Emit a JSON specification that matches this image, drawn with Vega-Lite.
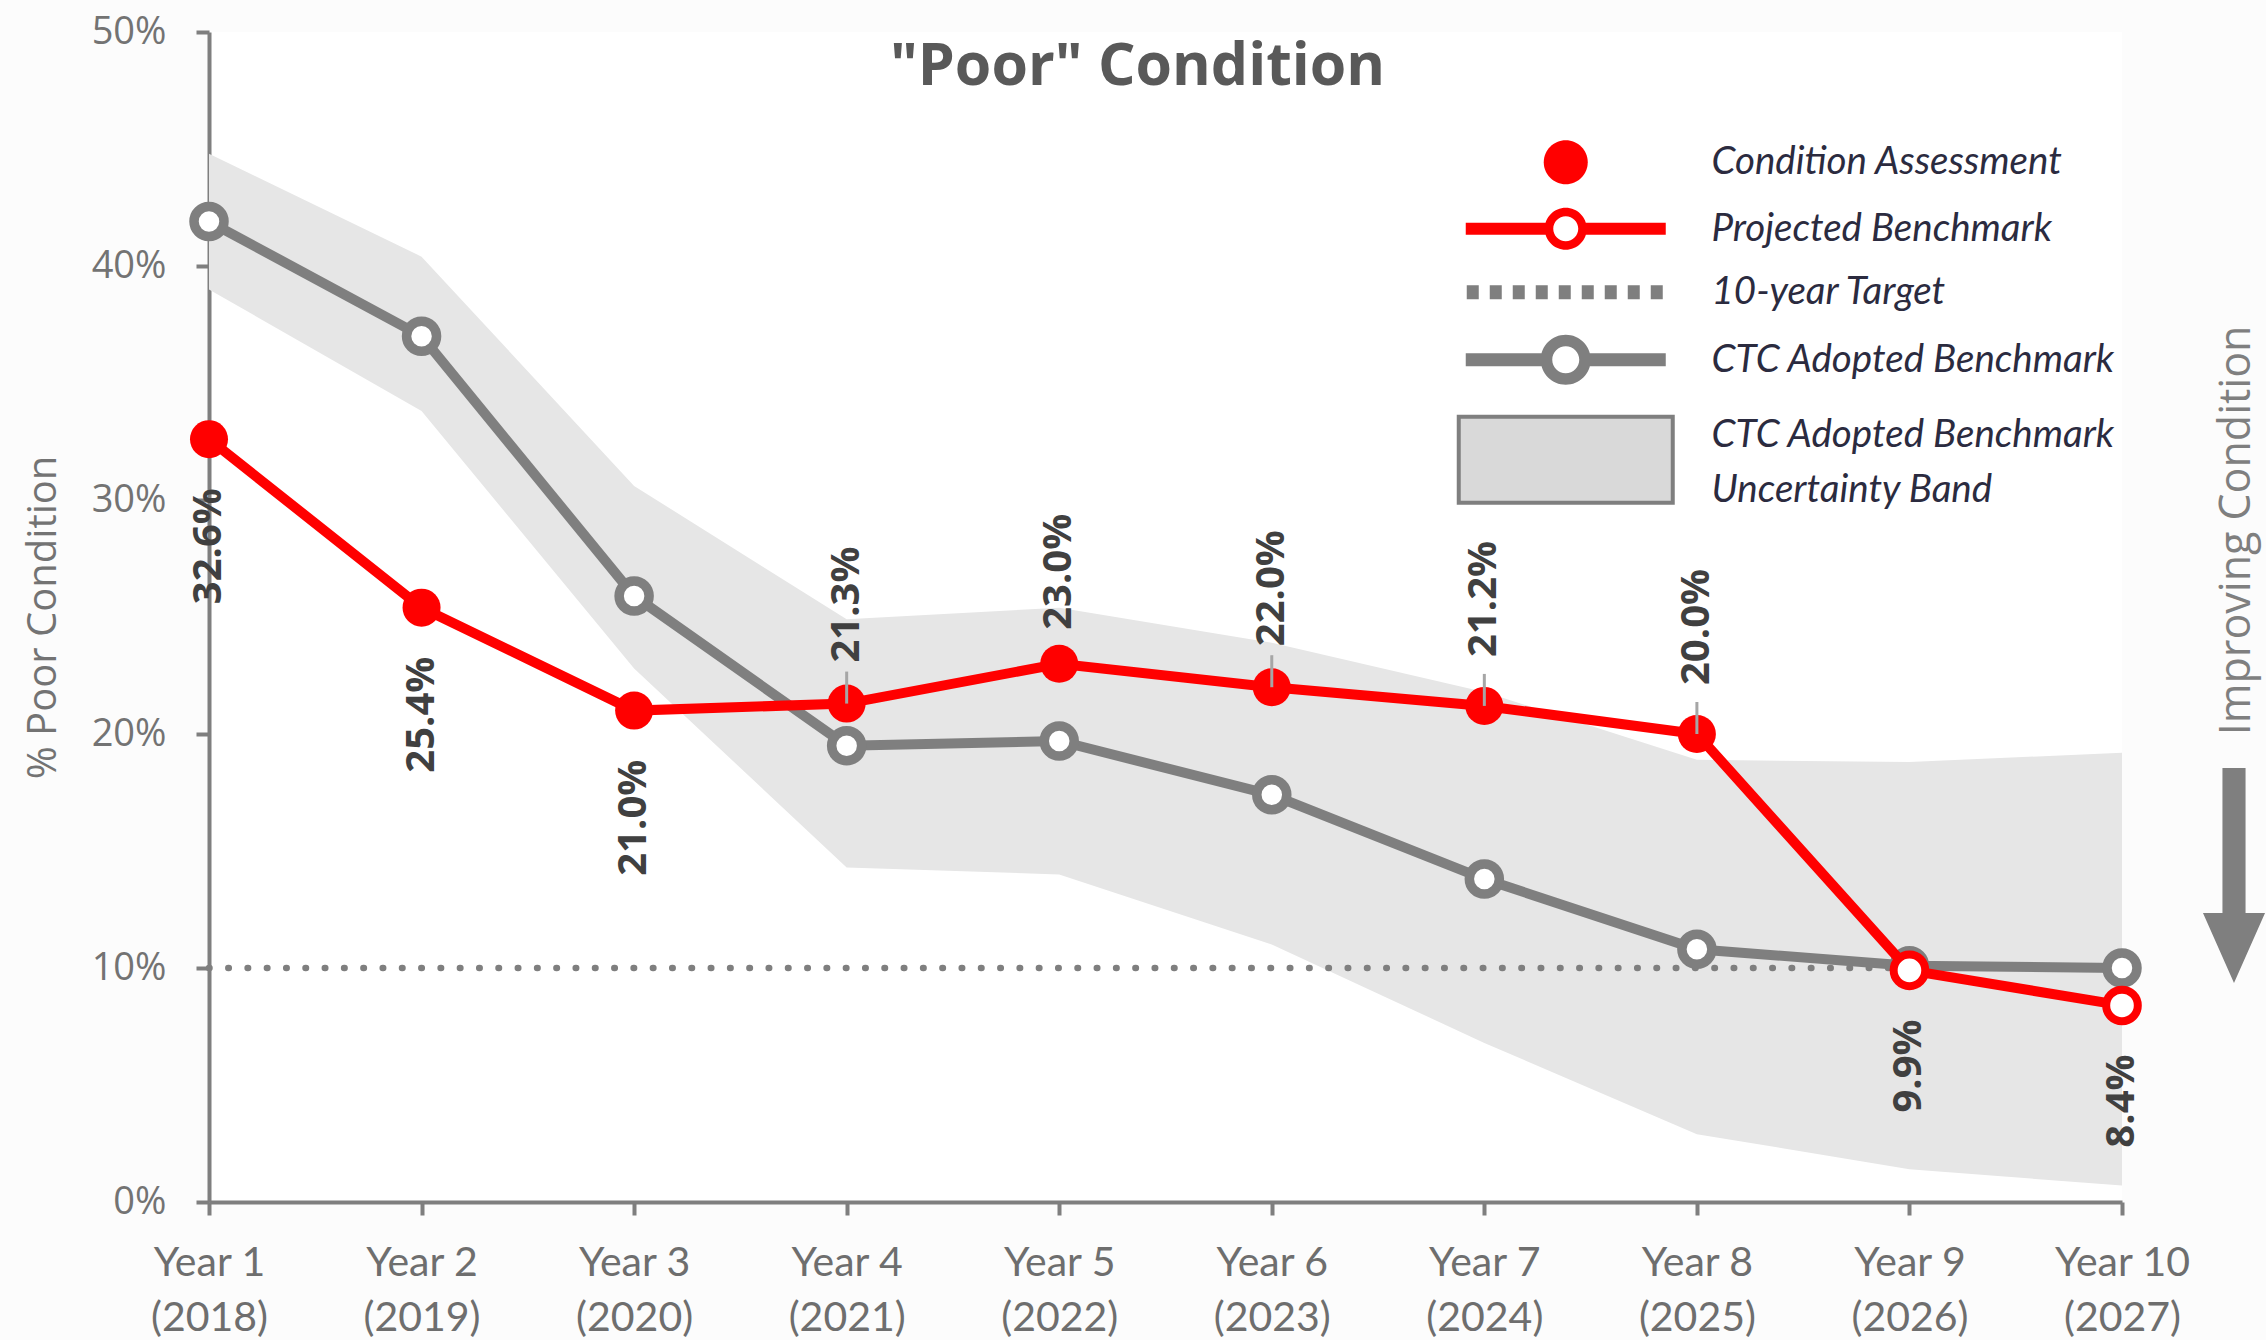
{
  "$schema": "https://vega.github.io/schema/vega-lite/v6.json",
  "width": 1913,
  "height": 1170,
  "autosize": {"type": "none"},
  "padding": {"left": 209, "top": 32, "right": 144, "bottom": 138},
  "background": "#fcfcfc",
  "config": {
    "view": {"stroke": null, "fill": "#ffffff"},
    "font": "Open Sans",
    "style": {"guide-label": {"lineHeight": 55}}
  },
  "data": {
    "values": [
      {"n": 1, "year": "Year 1|(2018)", "red": 0.326, "gray": 0.419, "lo": 0.390, "hi": 0.448, "status": "assessed"},
      {"n": 2, "year": "Year 2|(2019)", "red": 0.254, "gray": 0.370, "lo": 0.338, "hi": 0.404, "status": "assessed"},
      {"n": 3, "year": "Year 3|(2020)", "red": 0.210, "gray": 0.259, "lo": 0.228, "hi": 0.306, "status": "assessed"},
      {"n": 4, "year": "Year 4|(2021)", "red": 0.213, "gray": 0.195, "lo": 0.143, "hi": 0.249, "status": "assessed"},
      {"n": 5, "year": "Year 5|(2022)", "red": 0.230, "gray": 0.197, "lo": 0.140, "hi": 0.254, "status": "assessed"},
      {"n": 6, "year": "Year 6|(2023)", "red": 0.220, "gray": 0.174, "lo": 0.110, "hi": 0.239, "status": "assessed"},
      {"n": 7, "year": "Year 7|(2024)", "red": 0.212, "gray": 0.138, "lo": 0.068, "hi": 0.218, "status": "assessed"},
      {"n": 8, "year": "Year 8|(2025)", "red": 0.200, "gray": 0.108, "lo": 0.029, "hi": 0.189, "status": "assessed"},
      {"n": 9, "year": "Year 9|(2026)", "red": 0.099, "gray": 0.101, "lo": 0.014, "hi": 0.188, "status": "projected"},
      {"n": 10, "year": "Year 10|(2027)", "red": 0.084, "gray": 0.100, "lo": 0.007, "hi": 0.192, "status": "projected"}
    ]
  },
  "encoding": {
    "x": {
      "field": "year",
      "type": "ordinal",
      "scale": {
        "type": "point",
        "padding": 0,
        "domain": ["Year 1|(2018)", "Year 2|(2019)", "Year 3|(2020)", "Year 4|(2021)", "Year 5|(2022)", "Year 6|(2023)", "Year 7|(2024)", "Year 8|(2025)", "Year 9|(2026)", "Year 10|(2027)"]
      },
      "axis": {
        "title": "\"Poor\" Condition",
        "titleFont": "Open Sans",
        "titleFontSize": 59,
        "titleFontWeight": "bold",
        "titleColor": "#595959",
        "titleX": 928,
        "titleY": -1118,
        "titleAlign": "center",
        "titleBaseline": "alphabetic",
        "titleAngle": 0,
        "labelAngle": 0,
        "labelExpr": "split(datum.label, '|')",
        "labelFont": "Lato",
        "labelFontSize": 41,
        "labelColor": "#6e6e6e",
        "labelPadding": 28,
        "labelBaseline": "top",
        "labelLineHeight": 55,
        "labelOverlap": false,
        "labelFlush": false,
        "domainColor": "#7f7f7f",
        "domainWidth": 4,
        "tickColor": "#7f7f7f",
        "tickWidth": 4,
        "tickSize": 13,
        "grid": false
      }
    }
  },
  "layer": [
    {
      "mark": {"type": "area", "color": "#e6e6e6", "opacity": 1},
      "encoding": {
        "y": {
          "field": "lo",
          "type": "quantitative",
          "scale": {"domain": [0, 0.5]},
          "axis": {
            "title": "% Poor Condition",
            "values": [0, 0.1, 0.2, 0.3, 0.4, 0.5],
            "format": ".0%",
            "grid": false,
            "labelFont": "Open Sans",
            "labelFontSize": 38,
            "labelColor": "#737373",
            "labelPadding": 30,
            "domainColor": "#7f7f7f",
            "domainWidth": 4,
            "tickColor": "#7f7f7f",
            "tickWidth": 4,
            "tickSize": 13,
            "titleFont": "Open Sans",
            "titleFontSize": 40,
            "titleFontWeight": "normal",
            "titleColor": "#737373",
            "titleAngle": 270,
            "titleX": -166,
            "titleY": 585,
            "titleAlign": "center",
            "titleBaseline": "middle"
          }
        },
        "y2": {"field": "hi"}
      }
    },
    {
      "transform": [{"filter": "datum.n == 1"}],
      "mark": {"type": "rule", "color": "#7f7f7f", "strokeWidth": 6.5, "strokeDash": [0.5, 18.8], "strokeCap": "round"},
      "encoding": {
        "x": {"datum": "Year 1|(2018)"},
        "x2": {"datum": "Year 9|(2026)"},
        "y": {"datum": 0.1, "type": "quantitative"}
      }
    },
    {
      "mark": {"type": "line", "color": "#7f7f7f", "strokeWidth": 10},
      "encoding": {"y": {"field": "gray", "type": "quantitative"}}
    },
    {
      "mark": {"type": "point", "filled": true, "fill": "#ffffff", "stroke": "#7f7f7f", "strokeWidth": 9.5, "size": 900, "opacity": 1},
      "encoding": {"y": {"field": "gray", "type": "quantitative"}}
    },
    {
      "mark": {"type": "line", "color": "#ff0000", "strokeWidth": 10},
      "encoding": {"y": {"field": "red", "type": "quantitative"}}
    },
    {
      "transform": [{"filter": "datum.status == 'projected'"}],
      "mark": {"type": "point", "filled": true, "fill": "#ffffff", "stroke": "#ff0000", "strokeWidth": 8, "size": 1000, "opacity": 1},
      "encoding": {"y": {"field": "red", "type": "quantitative"}}
    },
    {
      "transform": [{"filter": "datum.status == 'assessed'"}],
      "mark": {"type": "point", "filled": true, "color": "#ff0000", "size": 1444, "opacity": 1},
      "encoding": {"y": {"field": "red", "type": "quantitative"}}
    },
    {
      "transform": [{"filter": "datum.n == 1"}],
      "mark": {"type": "point", "filled": true, "opacity": 0},
      "encoding": {
        "y": {"field": "red", "type": "quantitative"},
        "color": {
          "datum": "Condition Assessment",
          "type": "nominal",
          "scale": {
            "domain": ["Condition Assessment", "Projected Benchmark", "10-year Target", "CTC Adopted Benchmark", "CTC Adopted Benchmark Uncertainty Band"],
            "range": ["#ff0000", "#ff0000", "#7f7f7f", "#7f7f7f", "#d9d9d9"]
          },
          "legend": {
            "orient": "none",
            "legendX": 1227.5,
            "legendY": 111,
            "title": null,
            "padding": 0,
            "symbolSize": 400,
            "symbolOpacity": 1,
            "labelFont": "Lato",
            "labelFontStyle": "italic",
            "labelFontSize": 38.5,
            "labelColor": "#2b2b3f",
            "labelOffset": 236.5,
            "labelLimit": 0,
            "rowPadding": 22.5,
            "labelExpr": "datum.label == 'CTC Adopted Benchmark Uncertainty Band' ? ['CTC Adopted Benchmark', 'Uncertainty Band'] : datum.label"
          }
        },
        "shape": {
          "datum": "Condition Assessment",
          "type": "nominal",
          "scale": {
            "domain": ["Condition Assessment", "Projected Benchmark", "10-year Target", "CTC Adopted Benchmark", "CTC Adopted Benchmark Uncertainty Band"],
            "range": [
              "M 8.8 0 A 2.2 2.2 0 1 1 13.2 0 A 2.2 2.2 0 1 1 8.8 0 Z",
              "M 1 -0.6 L 9.2 -0.6 L 9.2 0.6 L 1 0.6 Z M 12.8 -0.6 L 21 -0.6 L 21 0.6 L 12.8 0.6 Z M 8.9 0 A 2.1 2.1 0 1 1 13.1 0 A 2.1 2.1 0 1 1 8.9 0 Z M 9.75 0 A 1.25 1.25 0 1 0 12.25 0 A 1.25 1.25 0 1 0 9.75 0 Z",
              "M 1.1 -0.7 H 2.3 V 0.7 H 1.1 Z M 3.4 -0.7 H 4.6 V 0.7 H 3.4 Z M 5.7 -0.7 H 6.9 V 0.7 H 5.7 Z M 8 -0.7 H 9.2 V 0.7 H 8 Z M 10.3 -0.7 H 11.5 V 0.7 H 10.3 Z M 12.6 -0.7 H 13.8 V 0.7 H 12.6 Z M 14.9 -0.7 H 16.1 V 0.7 H 14.9 Z M 17.2 -0.7 H 18.4 V 0.7 H 17.2 Z M 19.5 -0.7 H 20.7 V 0.7 H 19.5 Z",
              "M 1 -0.65 L 8.7 -0.65 L 8.7 0.65 L 1 0.65 Z M 13.3 -0.65 L 21 -0.65 L 21 0.65 L 13.3 0.65 Z M 8.5 0 A 2.5 2.5 0 1 1 13.5 0 A 2.5 2.5 0 1 1 8.5 0 Z M 9.65 0 A 1.35 1.35 0 1 0 12.35 0 A 1.35 1.35 0 1 0 9.65 0 Z",
              "M 0.3 -1.85 H 21.7 V 6.75 H 0.3 Z"
            ]
          },
          "legend": {"title": null}
        },
        "stroke": {
          "datum": "Condition Assessment",
          "type": "nominal",
          "scale": {
            "domain": ["Condition Assessment", "Projected Benchmark", "10-year Target", "CTC Adopted Benchmark", "CTC Adopted Benchmark Uncertainty Band"],
            "range": ["#ff0000", "#ff0000", "#7f7f7f", "#7f7f7f", "#7f7f7f"]
          },
          "legend": {"title": null}
        },
        "strokeWidth": {
          "datum": "Condition Assessment",
          "type": "nominal",
          "scale": {
            "type": "ordinal",
            "domain": ["Condition Assessment", "Projected Benchmark", "10-year Target", "CTC Adopted Benchmark", "CTC Adopted Benchmark Uncertainty Band"],
            "range": [0, 0, 0, 0, 4]
          },
          "legend": {"title": null}
        }
      }
    },
    {
      "transform": [{"filter": "datum.n == 4 || datum.n == 6 || datum.n == 7 || datum.n == 8"}],
      "mark": {"type": "rule", "color": "#a6a6a6", "strokeWidth": 3, "yOffset": -32},
      "encoding": {
        "y": {"field": "red", "type": "quantitative"},
        "y2": {"field": "red"}
      }
    },
    {
      "transform": [{"filter": "datum.n <= 3 || datum.n >= 9"}],
      "mark": {"type": "text", "angle": 270, "align": "right", "baseline": "middle", "yOffset": 49, "font": "Open Sans", "fontSize": 40, "fontWeight": "bold", "color": "#404040"},
      "encoding": {
        "y": {"field": "red", "type": "quantitative"},
        "text": {"field": "red", "format": ".1%"}
      }
    },
    {
      "transform": [{"filter": "datum.n == 4 || datum.n == 6"}],
      "mark": {"type": "text", "angle": 270, "align": "left", "baseline": "middle", "yOffset": -41, "font": "Open Sans", "fontSize": 40, "fontWeight": "bold", "color": "#404040"},
      "encoding": {
        "y": {"field": "red", "type": "quantitative"},
        "text": {"field": "red", "format": ".1%"}
      }
    },
    {
      "transform": [{"filter": "datum.n == 5"}],
      "mark": {"type": "text", "angle": 270, "align": "left", "baseline": "middle", "yOffset": -34, "font": "Open Sans", "fontSize": 40, "fontWeight": "bold", "color": "#404040"},
      "encoding": {
        "y": {"field": "red", "type": "quantitative"},
        "text": {"field": "red", "format": ".1%"}
      }
    },
    {
      "transform": [{"filter": "datum.n == 7 || datum.n == 8"}],
      "mark": {"type": "text", "angle": 270, "align": "left", "baseline": "middle", "yOffset": -49, "font": "Open Sans", "fontSize": 40, "fontWeight": "bold", "color": "#404040"},
      "encoding": {
        "y": {"field": "red", "type": "quantitative"},
        "text": {"field": "red", "format": ".1%"}
      }
    },
    {
      "transform": [{"filter": "datum.n == 10"}],
      "mark": {"type": "text", "text": "Improving Condition", "angle": 270, "align": "center", "baseline": "middle", "xOffset": 115, "font": "Open Sans", "fontSize": 43, "color": "#7f7f7f"},
      "encoding": {
        "y": {"datum": 0.287, "type": "quantitative"}
      }
    },
    {
      "transform": [{"filter": "datum.n == 10"}],
      "mark": {"type": "point", "shape": "M -0.105 -0.977 L 0.105 -0.977 L 0.105 0.34 L 0.282 0.34 L 0 0.977 L -0.282 0.34 L -0.105 0.34 Z", "size": 48400, "filled": true, "color": "#7f7f7f", "opacity": 1, "xOffset": 112},
      "encoding": {
        "y": {"datum": 0.1395, "type": "quantitative"}
      }
    }
  ]
}
